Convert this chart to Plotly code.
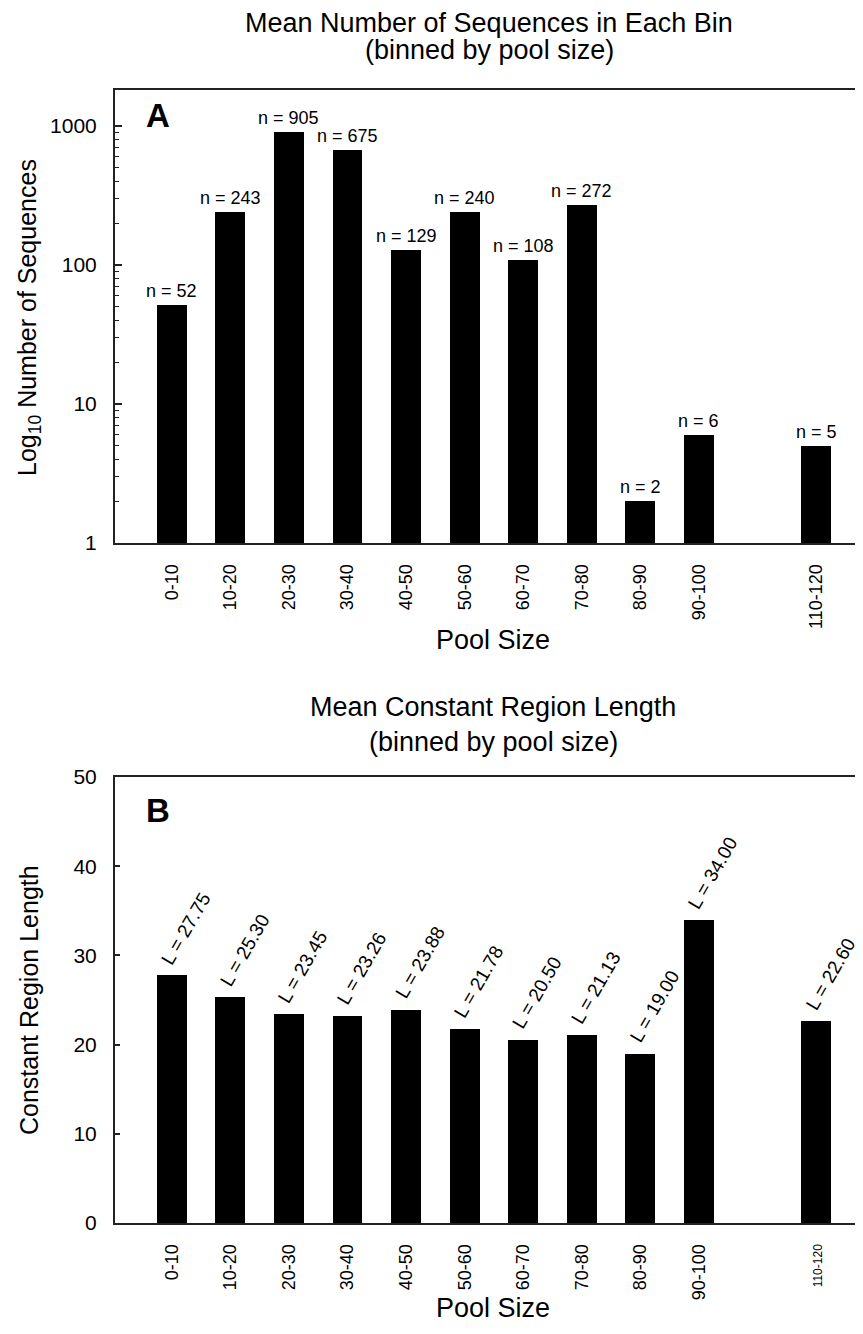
import numpy as np
import plotly.graph_objects as go

categories = ["0-10", "10-20", "20-30", "30-40", "40-50", "50-60", "60-70", "70-80", "80-90", "90-100", "110-120"]
positions = [0, 1, 2, 3, 4, 5, 6, 7, 8, 9, 11]
n_sequences = [52, 243, 905, 675, 129, 240, 108, 272, 2, 6, 5]
const_length = [27.75, 25.30, 23.45, 23.26, 23.88, 21.78, 20.50, 21.13, 19.00, 34.00, 22.60]

FONT = "Liberation Sans"
H = 1334.0
OFF = 8.0            # page body margin offset
L_MARGIN = 107.0
R_MARGIN = 8.0
PLOT_W = 863.0 - L_MARGIN - R_MARGIN


def px_x(p):
    return (p - OFF - L_MARGIN) / PLOT_W


def px_y(p):
    return 1 - (p - OFF) / H


fig = go.Figure()

fig.add_trace(go.Bar(x=positions, y=n_sequences, width=0.51, marker=dict(color="black", line=dict(width=0)),
                     xaxis="x", yaxis="y", showlegend=False))
fig.add_trace(go.Bar(x=positions, y=const_length, width=0.51, marker=dict(color="black", line=dict(width=0)),
                     xaxis="x2", yaxis="y2", showlegend=False))

blk = "black"
ann = []
for p, v in zip(positions, n_sequences):
    ann.append(dict(x=p, y=np.log10(v), xref="x", yref="y", text=f"n = {v}", showarrow=False,
                    xanchor="center", yanchor="bottom", yshift=2, font=dict(size=18, family=FONT, color=blk)))
for p, v in zip(positions, const_length):
    ann.append(dict(x=p - 0.3, y=v, xref="x2", yref="y2", text=f"L = {v:.2f}", showarrow=False, textangle=-60,
                    xanchor="left", yanchor="bottom", yshift=5, font=dict(size=19, family=FONT, color=blk)))


def txt(x, y, t, size, angle=0, bold=False):
    return dict(x=px_x(x), y=px_y(y), xref="paper", yref="paper", text=(f"<b>{t}</b>" if bold else t),
                showarrow=False, xanchor="center", yanchor="middle", textangle=angle,
                font=dict(size=size, family=FONT, color=blk))


ann += [
    txt(489, 23, "Mean Number of Sequences in Each Bin", 27),
    txt(489, 50, "(binned by pool size)", 27),
    txt(493, 707, "Mean Constant Region Length", 27),
    txt(493, 742, "(binned by pool size)", 27),
    txt(158, 115, "A", 33, bold=True),
    txt(158, 810, "B", 33, bold=True),
    txt(29, 318, "Log<sub>10</sub> Number of Sequences", 25, angle=-90),
    txt(29, 1000, "Constant Region Length", 25, angle=-90),
    txt(493, 640, "Pool Size", 27),
    txt(493, 1308, "Pool Size", 27),
]

xcommon = dict(range=[-0.97, 11.8], tickvals=positions, ticktext=categories, tickangle=-90, showline=True,
               linecolor="#222", linewidth=2, mirror=True, ticks="outside", ticklen=12,
               tickcolor="rgba(0,0,0,0)", showgrid=False, zeroline=False, automargin=False,
               tickfont=dict(size=18, family=FONT, color=blk))

ticktext_b = categories[:-1] + ["<span style='font-size:12px'>110-120</span>"]

minor_vals = [m * 10 ** e for e in range(0, 4) for m in range(2, 10) if m * 10 ** e < 1900]

fig.update_layout(
    width=863, height=1334, margin=dict(l=L_MARGIN, r=R_MARGIN, t=0, b=0, autoexpand=False),
    plot_bgcolor="white", paper_bgcolor="white", bargap=0,
    font=dict(family=FONT, color=blk),
    xaxis=dict(xcommon, anchor="y", domain=[0, 1]),
    yaxis=dict(type="log", range=[0, 3.26], domain=[px_y(543), px_y(90)], tickvals=[1, 10, 100, 1000],
               ticktext=["1", "10", "100", "1000"], ticks="inside", ticklen=7, tickwidth=1.5, tickcolor="#222",
               minor=dict(tickvals=minor_vals, ticks="inside", ticklen=4, tickwidth=1, tickcolor="#222", showgrid=False),
               showline=True, linecolor="#222", linewidth=2, showgrid=False, zeroline=False, automargin=False,
               ticklabelstandoff=12, tickfont=dict(size=21, family=FONT, color=blk), anchor="x"),
    xaxis2=dict(xcommon, anchor="y2", domain=[0, 1], ticktext=ticktext_b),
    yaxis2=dict(range=[0, 50], domain=[px_y(1223), px_y(777)], tickvals=[0, 10, 20, 30, 40, 50],
                ticks="inside", ticklen=5, tickwidth=1.5, tickcolor="#222",
                showline=True, linecolor="#222", linewidth=2, showgrid=False, zeroline=False, automargin=False,
                ticklabelstandoff=12, tickfont=dict(size=21, family=FONT, color=blk), anchor="x2"),
    annotations=ann,
)

fig.write_html("out.html")
